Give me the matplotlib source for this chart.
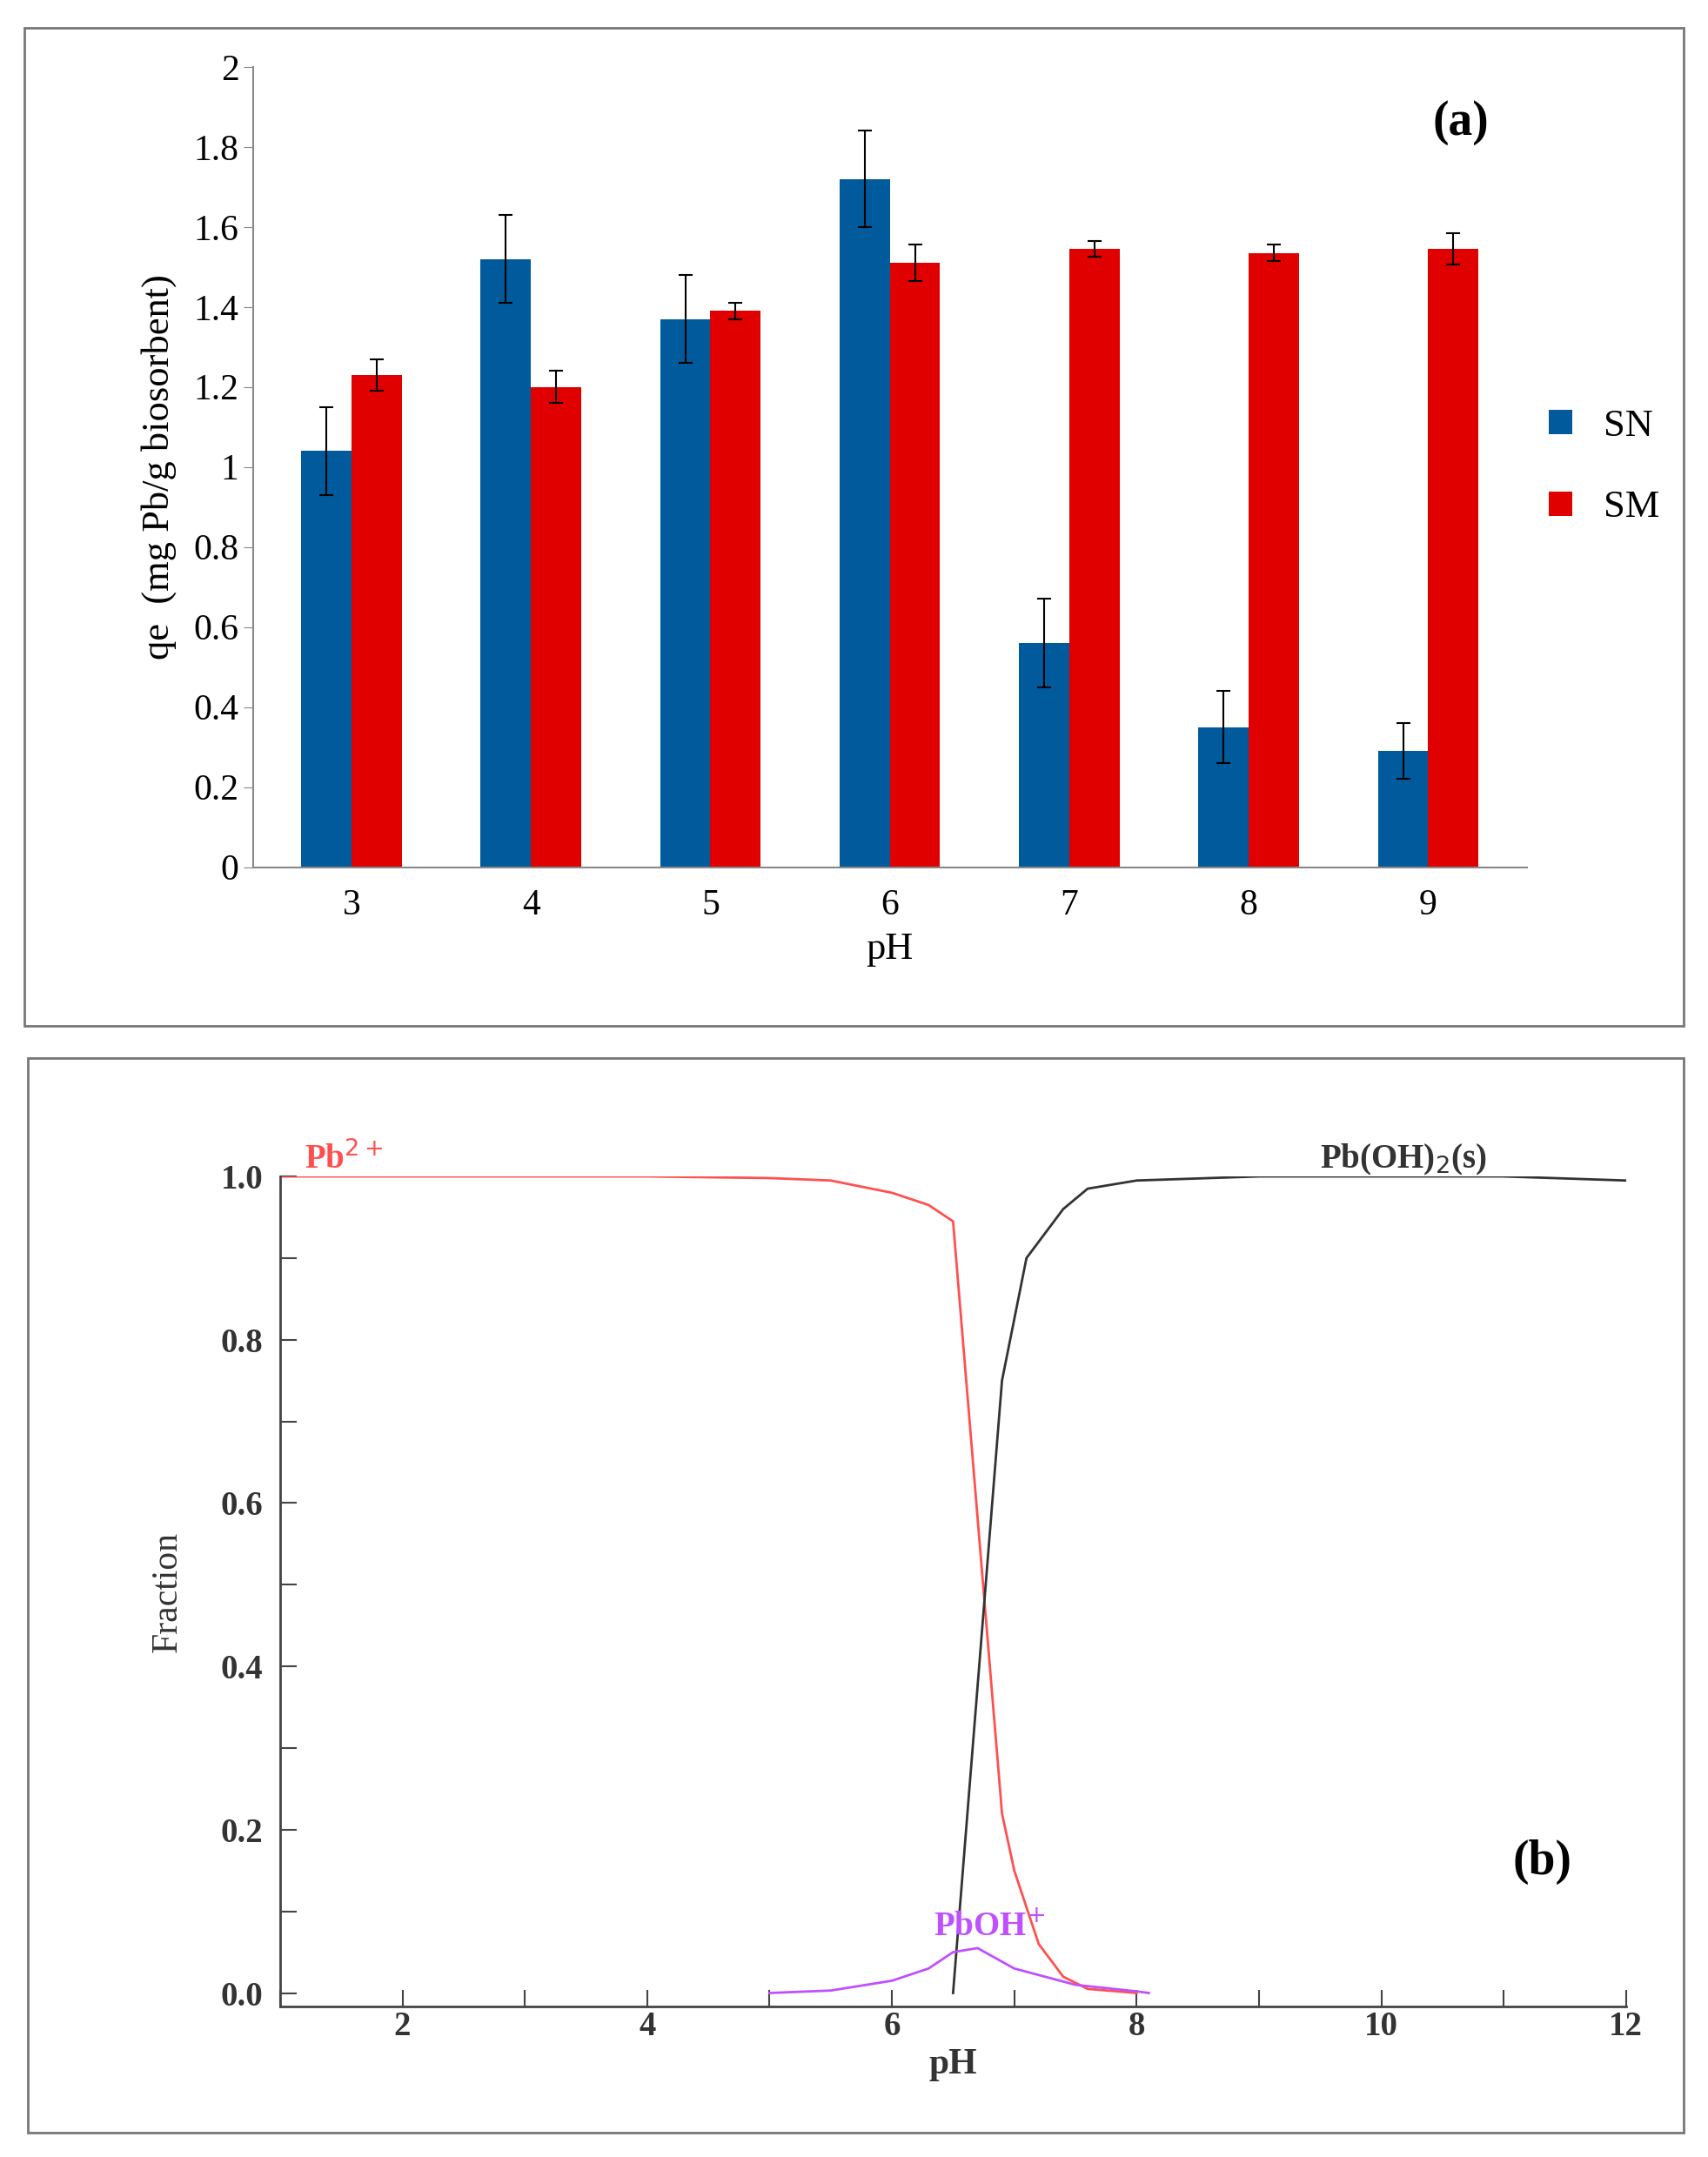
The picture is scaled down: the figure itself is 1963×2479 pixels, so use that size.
import numpy as np
import matplotlib.pyplot as plt
from matplotlib.patches import Rectangle

plt.rcParams['font.family'] = 'Liberation Serif'

ph_cat = ['3', '4', '5', '6', '7', '8', '9']
sn = [1.04, 1.52, 1.37, 1.72, 0.56, 0.35, 0.29]
sn_err = [0.11, 0.11, 0.11, 0.12, 0.11, 0.09, 0.07]
sm = [1.23, 1.20, 1.39, 1.51, 1.545, 1.535, 1.545]
sm_err = [0.04, 0.04, 0.02, 0.045, 0.02, 0.02, 0.04]

pb2_x = [1, 2, 3, 4, 5, 5.5, 6, 6.3, 6.5, 6.9, 7.0, 7.2, 7.4, 7.6, 8.0]
pb2_y = [1.0, 1.0, 1.0, 1.0, 0.998, 0.995, 0.98, 0.965, 0.945, 0.22, 0.15, 0.06, 0.02, 0.005, 0.0]
pboh2_x = [6.5, 6.9, 7.1, 7.4, 7.6, 8.0, 9.0, 11.0, 12.0]
pboh2_y = [0.0, 0.75, 0.9, 0.96, 0.985, 0.995, 1.0, 1.0, 0.995]
pboh_x = [5.0, 5.5, 6.0, 6.3, 6.5, 6.7, 7.0, 7.5, 8.0, 8.1]
pboh_y = [0.0, 0.003, 0.015, 0.03, 0.05, 0.055, 0.03, 0.01, 0.002, 0.0]

fig = plt.figure(figsize=(19.63, 24.79), dpi=100)

# panel frames
fig.add_artist(Rectangle((18/1240, 1-745/1566), 1204/1240, 725/1566, transform=fig.transFigure,
                         fill=False, ec='#777777', lw=2))
fig.add_artist(Rectangle((20/1240, 1-1548/1566), 1202/1240, 780/1566, transform=fig.transFigure,
                         fill=False, ec='#777777', lw=2))

# (a)
ax = fig.add_axes([0.148, 0.598, 0.746, 0.371])
x = np.arange(len(ph_cat))
w = 0.28
ax.bar(x - w/2, sn, w, yerr=sn_err, color='#005a9c', capsize=6, error_kw=dict(lw=1.5, capthick=1.5), label='SN')
ax.bar(x + w/2, sm, w, yerr=sm_err, color='#e00000', capsize=6, error_kw=dict(lw=1.5, capthick=1.5), label='SM')
ax.set_xlim(-0.55, 6.55)
ax.set_ylim(0, 2)
ax.set_yticks(np.arange(0, 2.01, 0.2))
ax.set_yticklabels(['0', '0.2', '0.4', '0.6', '0.8', '1', '1.2', '1.4', '1.6', '1.8', '2'])
ax.set_xticks(x)
ax.set_xticklabels(ph_cat)
ax.tick_params(axis='y', labelsize=30, length=8, color='#888888', direction='out')
ax.tick_params(axis='x', labelsize=30, length=0, pad=18)
for s in ['top', 'right']:
    ax.spines[s].set_visible(False)
for s in ['left', 'bottom']:
    ax.spines[s].set_color('#888888')
    ax.spines[s].set_linewidth(1.5)
ax.set_xlabel('pH', fontsize=32, labelpad=8)
ax.set_ylabel('qe  (mg Pb/g biosorbent)', fontsize=32, labelpad=14)
ax.text(0.97, 0.93, '(a)', transform=ax.transAxes, fontsize=40, fontweight='bold', ha='right', va='center')
ax.legend(loc='center left', bbox_to_anchor=(0.99, 0.5), frameon=False, fontsize=32,
          handlelength=0.6, handleheight=0.6, labelspacing=1.2)

# (b)
bx = fig.add_axes([0.164, 0.0696, 0.788, 0.385])
bx.plot(pb2_x, pb2_y, color='#ff5050', lw=2)
bx.plot(pboh2_x, pboh2_y, color='#333333', lw=2)
bx.plot(pboh_x, pboh_y, color='#c050ff', lw=2)
bx.set_xlim(1, 12)
bx.set_ylim(-0.017, 1.0)
bx.set_xticks([2, 4, 6, 8, 10, 12])
bx.set_xticks(np.arange(1, 13, 1), minor=True)
bx.set_yticks(np.arange(0, 1.01, 0.2))
bx.set_yticklabels(['0.0', '0.2', '0.4', '0.6', '0.8', '1.0'])
bx.set_yticks(np.arange(0, 1.01, 0.1), minor=True)
bx.tick_params(which='both', direction='in', color='#444444', labelsize=28, length=14, width=1.5)
bx.tick_params(axis='y', pad=14)
for lab in bx.get_xticklabels() + bx.get_yticklabels():
    lab.set_fontweight('bold')
    lab.set_color('#333333')
for s in ['top', 'right']:
    bx.spines[s].set_visible(False)
for s in ['left', 'bottom']:
    bx.spines[s].set_color('#444444')
    bx.spines[s].set_linewidth(2)
bx.set_xlabel('pH', fontsize=30, fontweight='bold', color='#333333')
bx.set_ylabel('Fraction', fontsize=30, color='#333333', labelpad=30)
bx.text(1.2, 1.01, 'Pb$^{2+}$', color='#ff5050', fontsize=28, fontweight='bold')
bx.text(9.5, 1.01, 'Pb(OH)$_2$(s)', color='#333333', fontsize=28, fontweight='bold')
bx.text(6.8, 0.07, 'PbOH$^{+}$', color='#c050ff', fontsize=28, fontweight='bold', ha='center')
bx.text(0.96, 0.16, '(b)', transform=bx.transAxes, fontsize=40, fontweight='bold', ha='right')

fig.savefig('out.png', dpi=100)
